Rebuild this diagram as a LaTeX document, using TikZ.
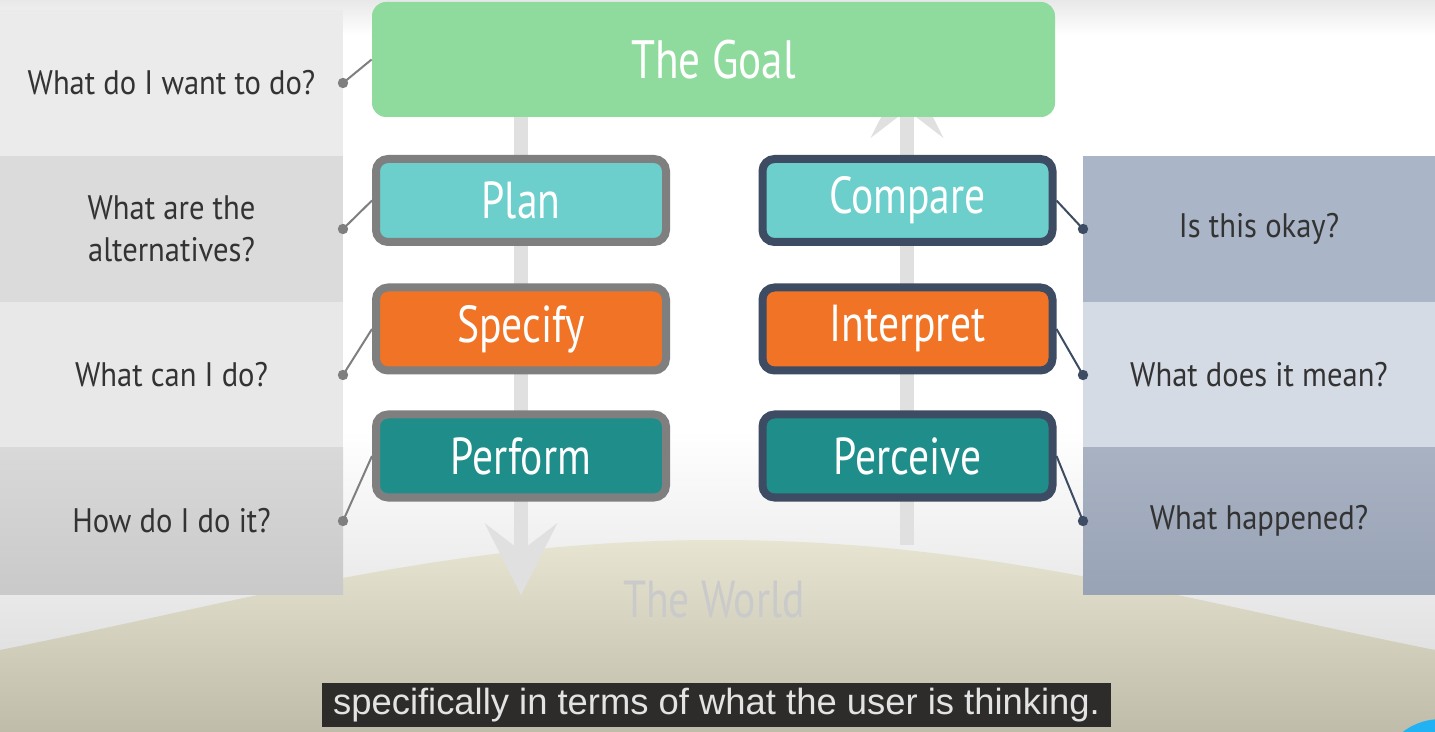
\documentclass[tikz,border=0pt]{standalone}
\usepackage{fontspec}
\setmainfont{PT Sans}
\newfontfamily\stagefont[FakeStretch=0.8]{PT Sans}
\newfontfamily\askfont[FakeStretch=0.9]{PT Sans}
\newfontfamily\capfont{Liberation Sans}
\usetikzlibrary{arrows.meta}
\definecolor{goalgreen}{HTML}{8FDB9D}
\definecolor{planteal}{HTML}{6CCFCC}
\definecolor{specorange}{HTML}{F07326}
\definecolor{perfteal}{HTML}{1F8E8B}
\definecolor{doergray}{HTML}{7F7F7F}
\definecolor{seerslate}{HTML}{3D4C63}
\definecolor{asktext}{HTML}{333333}
\definecolor{barfill}{HTML}{E0E0E0}
\definecolor{worldtext}{HTML}{CACACA}
\definecolor{hilltop}{HTML}{E7E5D2}
\definecolor{hillbottom}{HTML}{BFBCA9}
\definecolor{capback}{HTML}{2D2C2A}
\definecolor{captext}{HTML}{E3E3E3}
\definecolor{dotblue}{HTML}{20B2F2}
\tikzset{
  stage/.style={rounded corners=6pt, line width=4pt, minimum width=145pt,
    minimum height=41.5pt, inner sep=0pt, text=white,
    font=\stagefont\fontsize{26}{30}\selectfont},
  doer/.style={stage, draw=doergray},
  seer/.style={stage, draw=seerslate},
  ask/.style={minimum width=171.5pt, minimum height=73pt, inner sep=0pt,
    outer sep=0pt, align=center, text=asktext,
    font=\askfont\fontsize{17}{21}\selectfont},
  tell/.style={ask, minimum width=176pt},
  link/.style={line width=1pt},
  bar/.style={line width=7pt, draw=barfill,
    -{Stealth[length=36pt, width=36.5pt, inset=14pt, line width=0pt]}},
}
\begin{document}
\begin{tikzpicture}[x=0.5pt, y=-0.5pt]
  \useasboundingbox (0,0) rectangle (1435,732);
  % backdrop
  \fill[white] (0,0) rectangle (1435,732);
  \shade[top color=white, bottom color=black!16] (0,430) rectangle (1435,732);
  \shade[top color=black!9, bottom color=white] (0,0) rectangle (1435,35);
  \shade[top color=hilltop, bottom color=hillbottom]
    (0,650) .. controls (250,600) and (450,540) .. (717,540)
    .. controls (985,540) and (1185,600) .. (1435,650)
    -- (1435,732) -- (0,732) -- cycle;
  \node[text=worldtext, font=\stagefont\fontsize{26}{30}\selectfont] (world) at (714,600) {The World};

  % questions
  \node[ask, fill=black!8]  (q1) at (171.5,83)  {What do I want to do?};
  \node[ask, fill=black!14] (q2) at (171.5,229) {What are the\\alternatives?};
  \node[ask, fill=black!9]  (q3) at (171.5,375) {What can I do?};
  \node[ask, top color=black!15, bottom color=black!21] (q4) at (171.5,521) {How do I do it?};
  \node[tell, fill={rgb,255:red,170;green,181;blue,199}] (a1) at (1259,229) {Is this okay?};
  \node[tell, fill={rgb,255:red,213;green,219;blue,229}] (a2) at (1259,375) {What does it mean?};
  \node[tell, top color={rgb,255:red,168;green,178;blue,195},
    bottom color={rgb,255:red,152;green,163;blue,181}] (a3) at (1259,521) {What happened?};

  % flow bars
  \coordinate (dntop) at (521,60);
  \coordinate (dn) at (521,595);
  \coordinate (up) at (907,545);
  \coordinate (uptop) at (907,66);
  \draw[bar] (dntop) -- (dn);
  \draw[bar] (up) -- (uptop);

  % stages
  \node[fill=goalgreen, rounded corners=7pt, minimum width=341.5pt, minimum height=57.5pt,
    text=white, font=\stagefont\fontsize{27}{30}\selectfont] (goal) at (713.5,59.5) {The Goal};
  \node[doer, fill=planteal]   (plan)      at (521,200.5)   {Plan};
  \node[doer, fill=specorange] (specify)   at (521,329)     {Specify};
  \node[doer, fill=perfteal]   (perform)   at (521,456)     {Perform};
  \node[seer, fill=planteal]   (compare)   at (907.5,200.5) {Compare};
  \node[seer, fill=specorange] (interpret) at (907.5,329)   {Interpret};
  \node[seer, fill=perfteal]   (perceive)  at (907.5,456)   {Perceive};

  % links
  \foreach \q/\b in {q1/goal, q2/plan, q3/specify, q4/perform} {
    \draw[link, doergray] (\q.east) -- (\b.west);
    \fill[doergray] (\q.east) circle[radius=2.6pt];
  }
  \foreach \b/\a in {compare/a1, interpret/a2, perceive/a3} {
    \draw[link, seerslate] (\b.east) -- (\a.west);
    \fill[seerslate] (\a.west) circle[radius=2.6pt];
  }

  % caption
  \node[fill=capback, text=captext, minimum width=394.5pt, minimum height=22pt,
    inner sep=0pt, font=\capfont\fontsize{18.2}{20}\selectfont] (cap) at (716.5,705)
    {specifically in terms of what the user is thinking.};
  \begin{scope}
    \clip (0,0) rectangle (1435,732);
    \fill[dotblue] (1440,780) circle[radius=30.4pt];
  \end{scope}
\end{tikzpicture}
\end{document}
